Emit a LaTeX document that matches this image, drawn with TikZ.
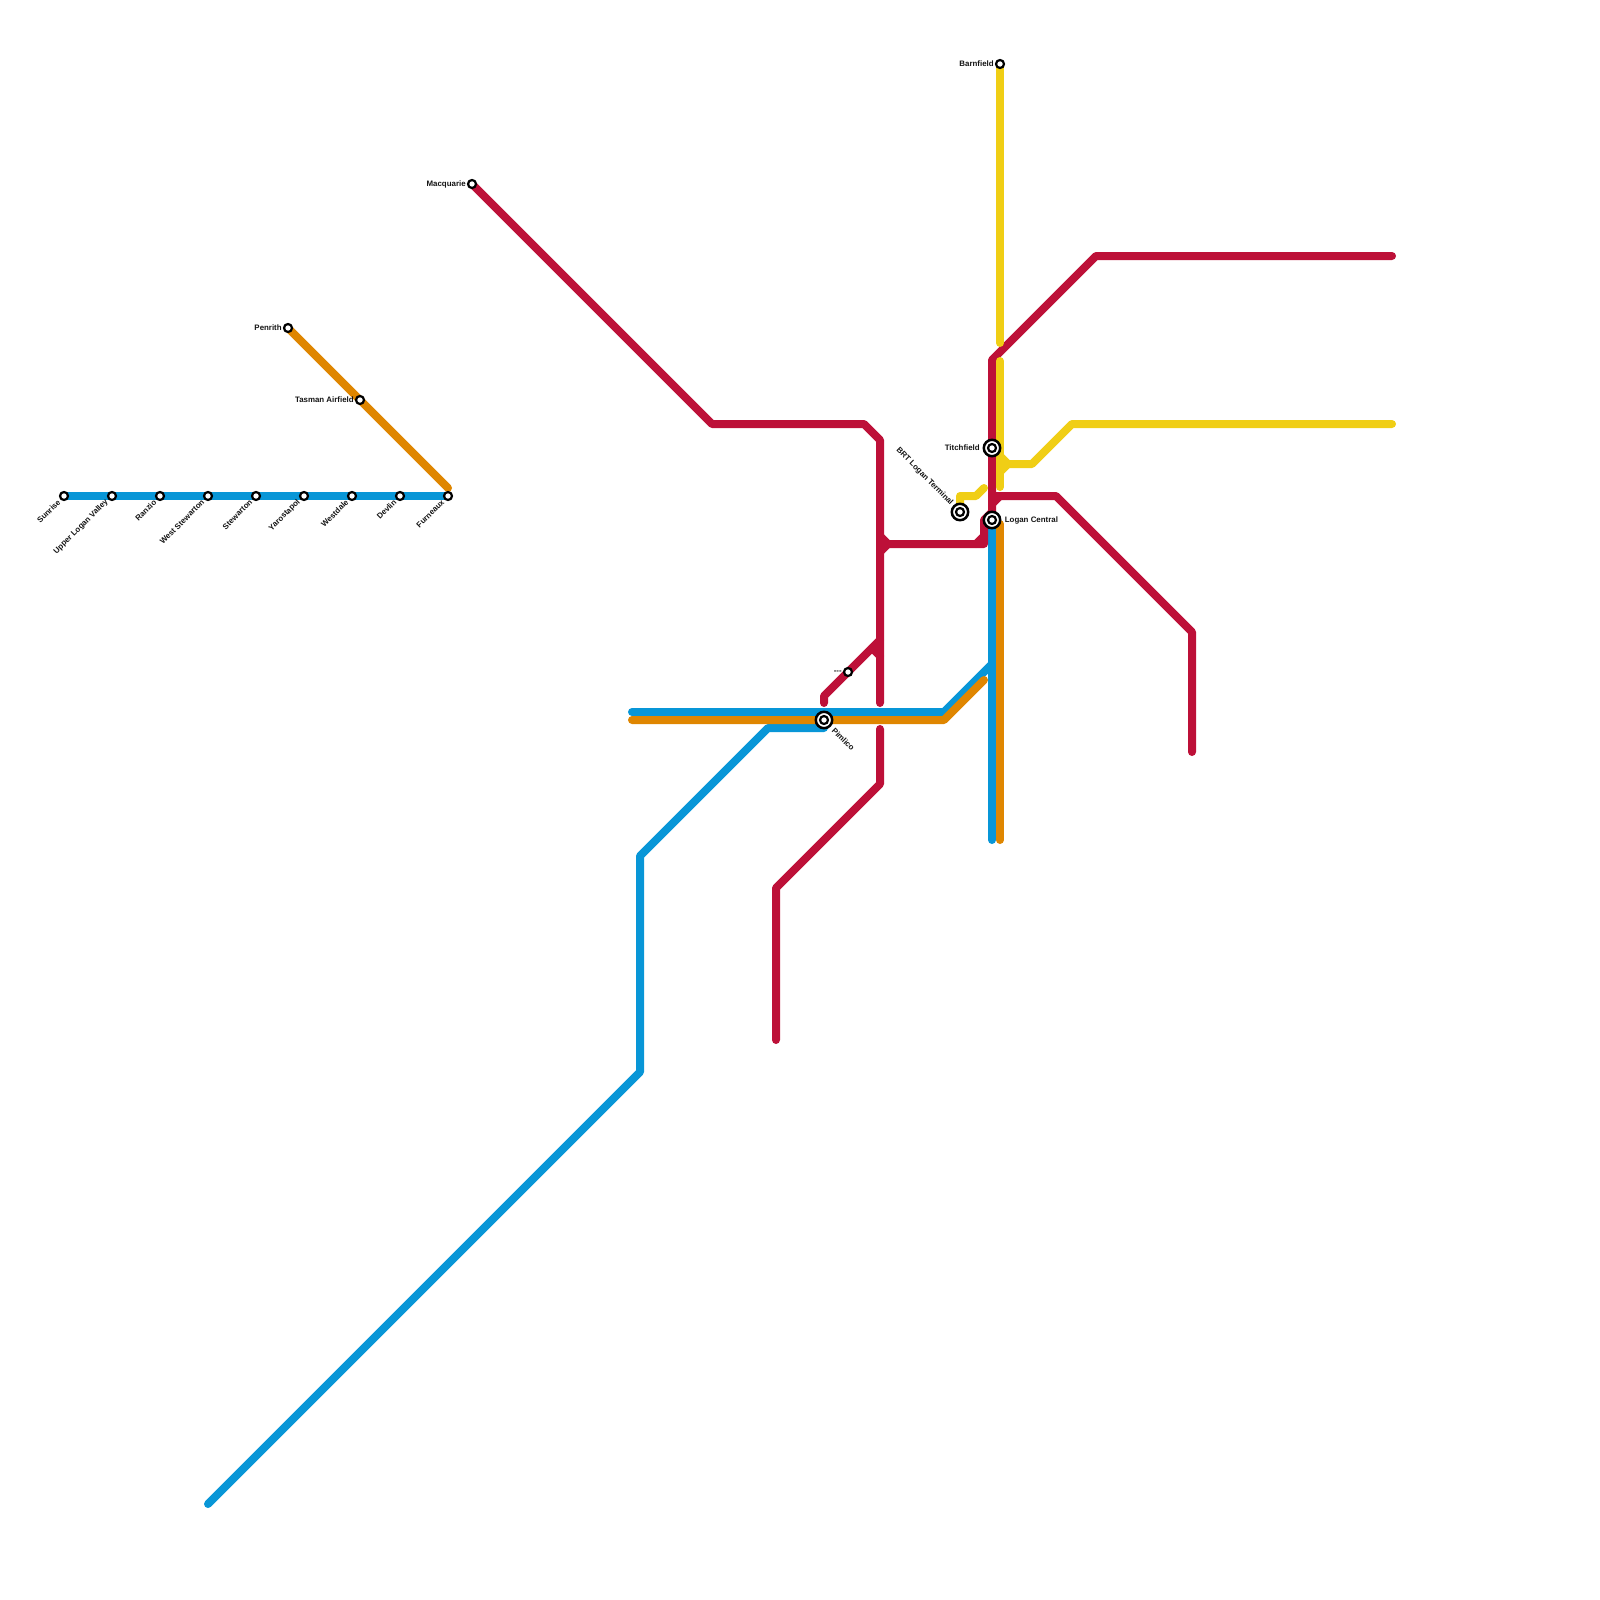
\documentclass[tikz,border=0pt]{standalone}
\usepackage{fontspec}
\setmainfont{Liberation Sans}
\usepackage{xcolor}
\usetikzlibrary{positioning,calc}
\definecolor{lineblue}{HTML}{0896D7}
\definecolor{linered}{HTML}{BD1038}
\definecolor{lineorange}{HTML}{DF8600}
\definecolor{lineyellow}{HTML}{F0CE15}

\begin{document}
\begin{tikzpicture}[x=0.5pt,y=-0.5pt,font=\fontsize{3.95}{4.8}\selectfont\bfseries,text=black!92]
        \tikzstyle{rail}=[line width=4pt,line cap=round,line join=round]
        \tikzstyle{stn}=[circle,draw=black,fill=white,line width=1.1pt,inner sep=0pt,minimum size=4pt]
        \tikzstyle{stnbig}=[circle,draw=black,fill=white,line width=1.25pt,inner sep=0pt,minimum size=8.2pt]
        \tikzstyle{lbl}=[inner sep=0pt]
        \tikzstyle{lbldown}=[lbl,xshift=-2.4pt,yshift=-2.4pt,anchor=east,rotate=45]
        \useasboundingbox (0,0) rectangle (1600,1600);
        % Free ends and bends
        \coordinate (bs) at (208,1504);
        \coordinate (bw) at (640,1072);
        \coordinate (bn) at (640,856);
        \coordinate (bk) at (768,728);
        \coordinate (bk2) at (824,728);
        \coordinate (tw1) at (632,712);
        \coordinate (tw2) at (632,720);
        \coordinate (te1) at (944,712);
        \coordinate (te2) at (944,720);
        \coordinate (bt) at (992,664);
        \coordinate (ot) at (984,680);
        \coordinate (ve1) at (992,840);
        \coordinate (ve2) at (1000,840);
        % Lines
        \draw[rail,lineblue] (tw1) -- (te1) -- (bt);
        \draw[rail,lineblue] (bs) -- (bw) -- (bn) -- (bk) -- (bk2);
        \draw[rail,lineblue] (992,524) -- (ve1);
        \draw[rail,lineorange] (tw2) -- (te2) -- (ot);
        \draw[rail,lineorange] (1000,524) -- (ve2);
        \draw[rail,lineorange] (288,328) -- (448,488);
        \draw[rail,lineblue] (64,496) -- (448,496);
        \draw[rail,linered] (472,184) -- (712,424) -- (864,424) -- (880,440) -- (880,703);
        \draw[rail,linered] (880,536) -- (888,544) -- (880,552);
        \draw[rail,linered] (824,703) -- (824,696) -- (880,640);
        \draw[rail,linered] (872,648) -- (880,656);
        \draw[rail,linered] (880,729) -- (880,784) -- (776,888) -- (776,1040);
        \draw[rail,linered] (1392,256) -- (1096,256) -- (992,360) -- (992,520);
        \draw[rail,linered] (992,504) -- (1000,496);
        \draw[rail,linered] (992,496) -- (1056,496) -- (1192,632) -- (1192,752);
        \draw[rail,linered] (888,544) -- (984,544) -- (984,520) -- (992,512);
        \draw[rail,linered] (976,544) -- (984,536);
        \draw[rail,lineyellow] (1000,64) -- (1000,343);
        \draw[rail,lineyellow] (1000,361) -- (1000,487);
        \draw[rail,lineyellow] (1000,456) -- (1008,464) -- (1032,464) -- (1072,424) -- (1392,424);
        \draw[rail,lineyellow] (1000,472) -- (1008,464);
        \draw[rail,lineyellow] (960,504) -- (960,496) -- (976,496) -- (984,488);
        % Small stations
        \node[stn] (sunrise) at (64,496) {};
        \node[stn] (upperlogan) at (112,496) {};
        \node[stn] (ranzio) at (160,496) {};
        \node[stn] (weststewarton) at (208,496) {};
        \node[stn] (stewarton) at (256,496) {};
        \node[stn] (yarostapol) at (304,496) {};
        \node[stn] (westdale) at (352,496) {};
        \node[stn] (devlin) at (400,496) {};
        \node[stn] (furneaux) at (448,496) {};
        \node[stn] (penrith) at (288,328) {};
        \node[stn] (tasman) at (360,400) {};
        \node[stn] (macquarie) at (472,184) {};
        \node[stn] (barnfield) at (1000,64) {};
        \node[stn] (unnamed) at (848,672) {};
        % Interchanges
        \node[stnbig] (titchfield) at (992,448) {};
        \node[stn] (titchfieldin) at (992,448) {};
        \node[stnbig] (logan) at (992,520) {};
        \node[stn] (loganin) at (992,520) {};
        \node[stnbig] (brt) at (960,512) {};
        \node[stn] (brtin) at (960,512) {};
        \node[stnbig] (pimlico) at (824,720) {};
        \node[stn] (pimlicoin) at (824,720) {};
        % Labels
        \node[lbldown] (sunriselbl) at (sunrise) {Sunrise};
        \node[lbldown] (upperloganlbl) at (upperlogan) {Upper Logan Valley};
        \node[lbldown] (ranziolbl) at (ranzio) {Ranzio};
        \node[lbldown] (weststewartonlbl) at (weststewarton) {West Stewarton};
        \node[lbldown] (stewartonlbl) at (stewarton) {Stewarton};
        \node[lbldown] (yarostapollbl) at (yarostapol) {Yarostapol};
        \node[lbldown] (westdalelbl) at (westdale) {Westdale};
        \node[lbldown] (devlinlbl) at (devlin) {Devlin};
        \node[lbldown] (furneauxlbl) at (furneaux) {Furneaux};
        \node[lbl,left=0.4pt of penrith] (penrithlbl) {Penrith};
        \node[lbl,left=0.4pt of tasman] (tasmanlbl) {Tasman Airfield};
        \node[lbl,left=0.4pt of macquarie] (macquarielbl) {Macquarie};
        \node[lbl,left=0.4pt of barnfield] (barnfieldlbl) {Barnfield};
        \node[lbl,left=0.4pt of unnamed] (unnamedlbl) {-{}-{}-};
        \node[lbl,left=1.2pt of titchfield] (titchfieldlbl) {Titchfield};
        \node[lbl,right=1.5pt of logan] (loganlbl) {Logan Central};
        \node[lbl,xshift=-0.7pt,yshift=0.7pt,anchor=east,rotate=-45,at=(brt.north west)] (brtlbl) {BRT Logan Terminal};
        \node[lbl,xshift=1.2pt,yshift=-1.2pt,anchor=west,rotate=-45,at=(pimlico.south east)] (pimlicolbl) {Pimlico};
      \end{tikzpicture}
\end{document}
